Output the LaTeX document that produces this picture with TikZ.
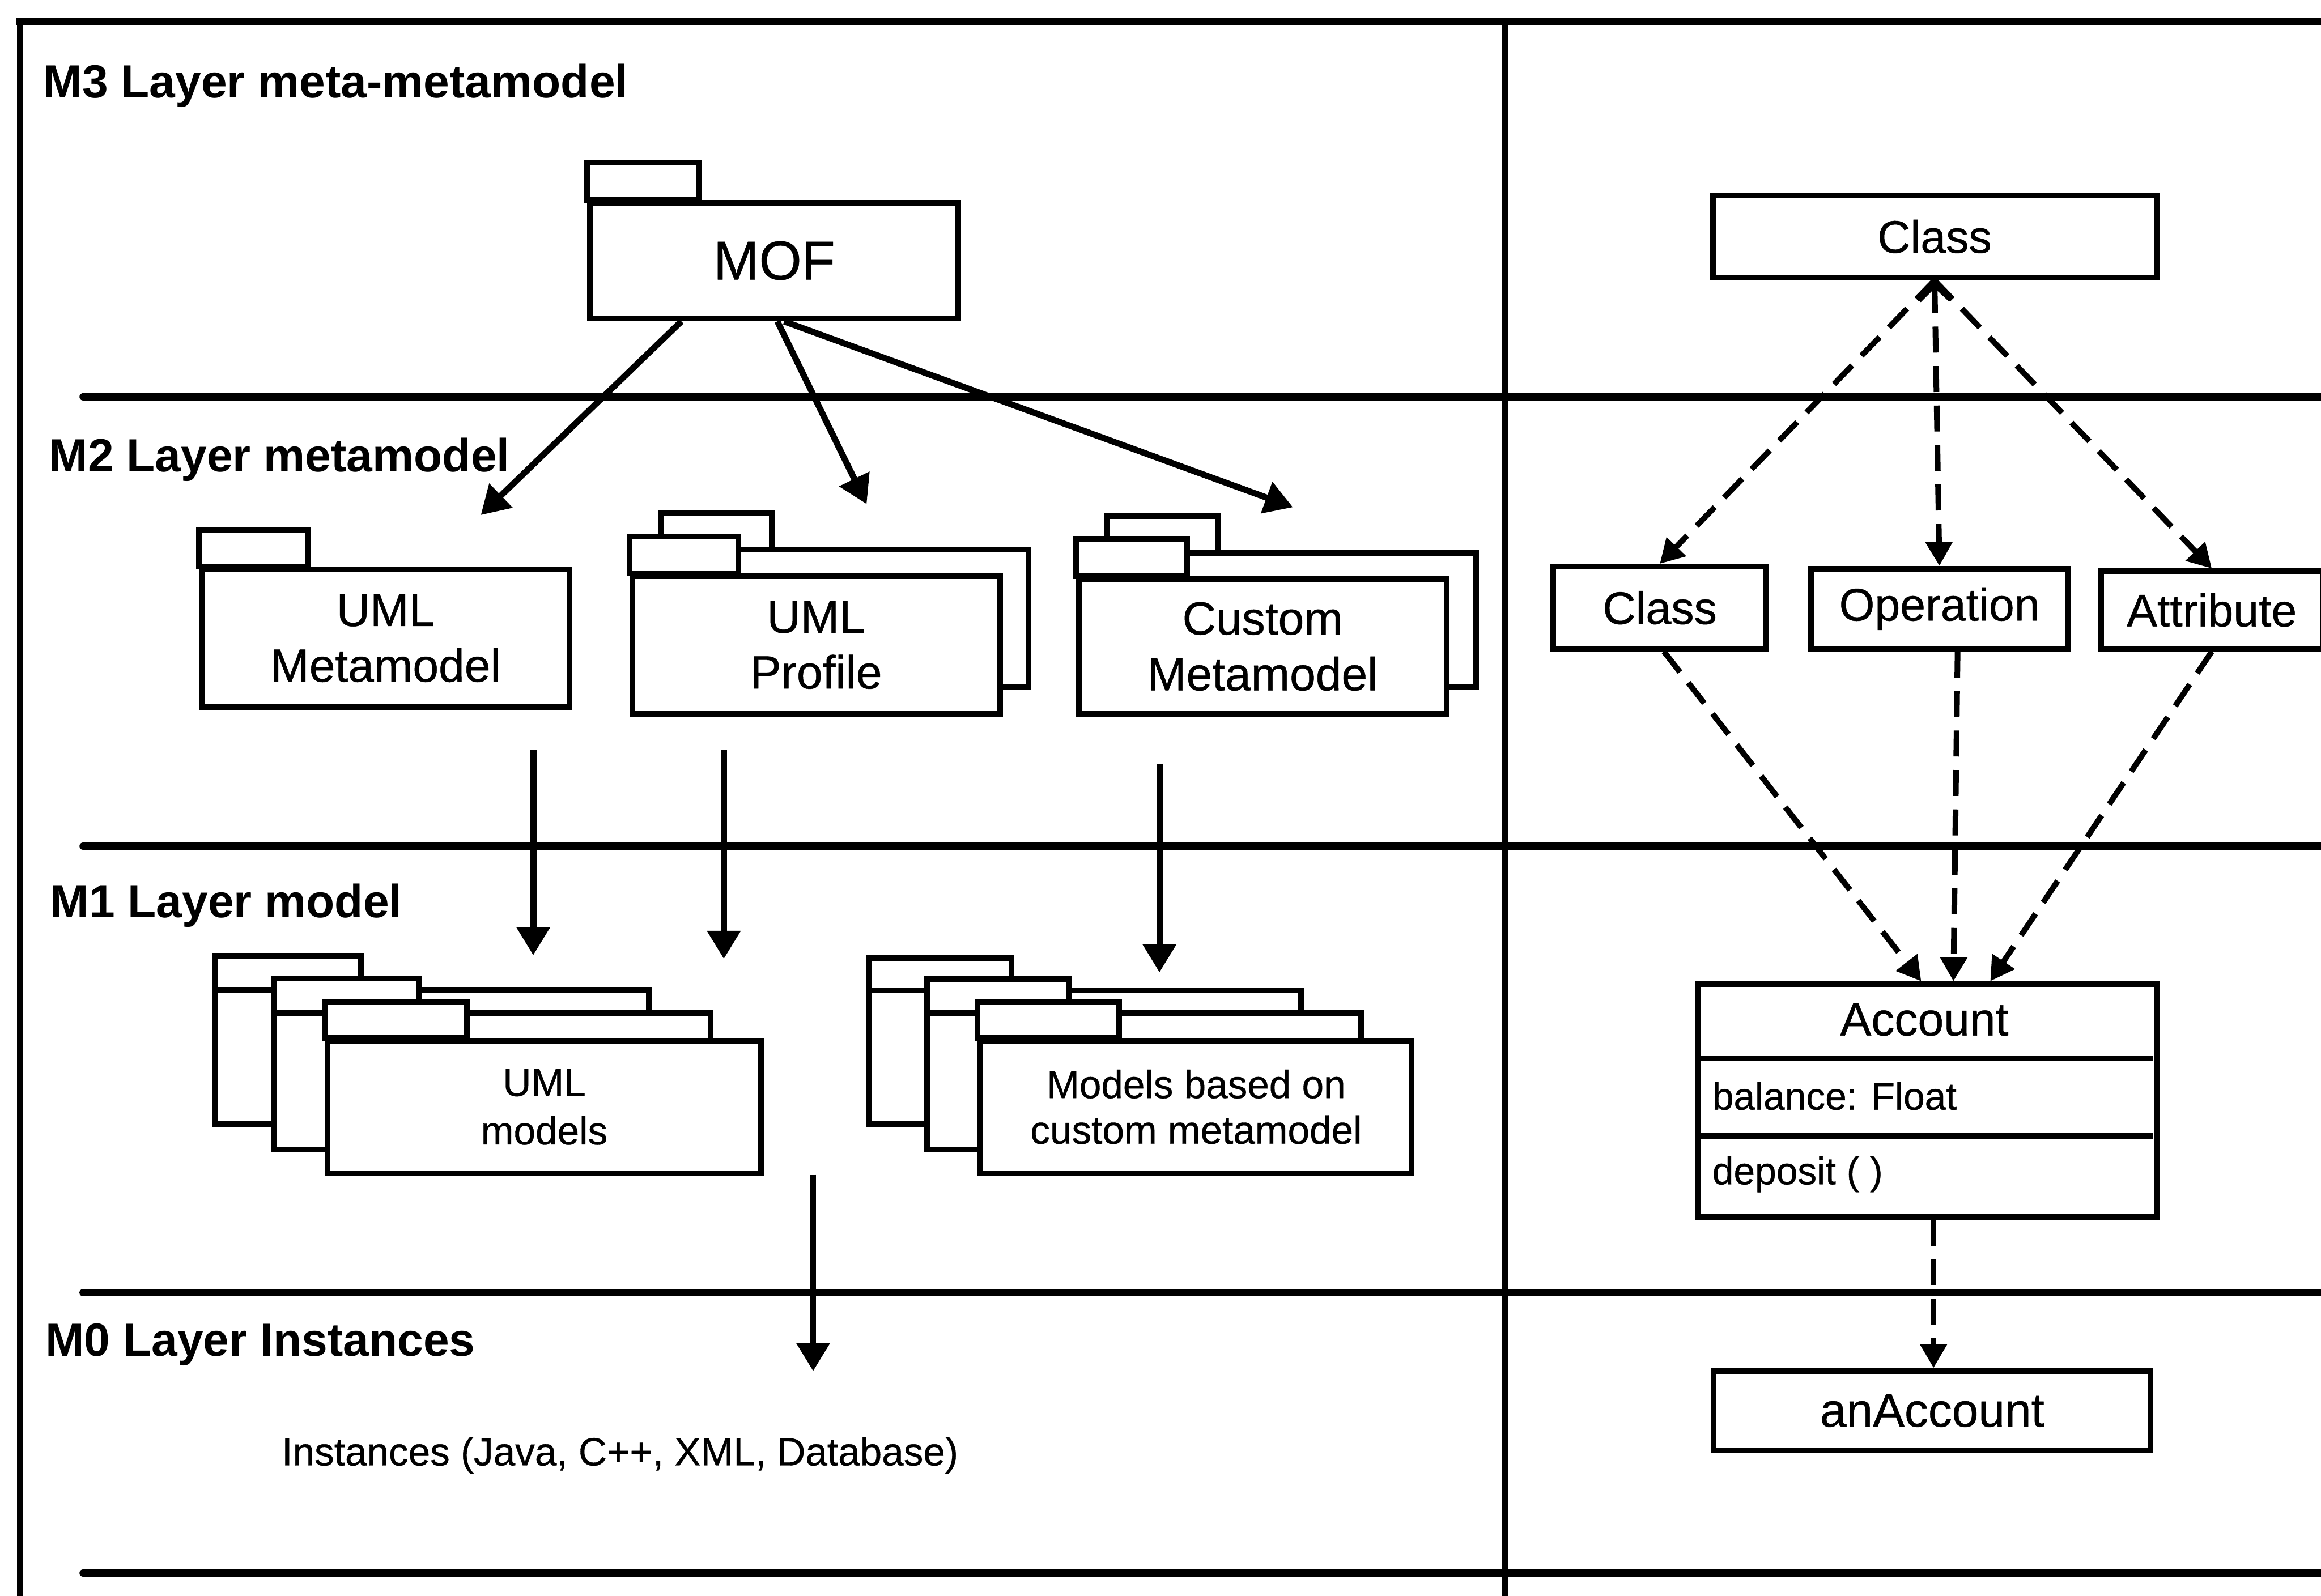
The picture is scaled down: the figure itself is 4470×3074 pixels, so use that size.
\documentclass[tikz,border=0pt]{standalone}
\usepackage{fontspec}
\setmainfont{Liberation Sans}[UprightFeatures={FakeBold=0.6}]
\usetikzlibrary{arrows.meta,calc}

% back layer of a package: body top-left (x,y), body width, body height, tab width, tab height
\newcommand{\umlpkg}[6]{%
  \draw[pkgline] (#1,#2) rectangle ++(#5,-#6);
  \draw[pkgline] (#1,#2) rectangle ++(#3,#4);}

\begin{document}
\begin{tikzpicture}[x=0.01cm,y=-0.01cm,
  layerrule/.style={line width=4pt, line cap=round},
  sideline/.style={line width=3.3pt},
  pkgline/.style={line width=3.1pt, fill=white},
  pkgbody/.style={draw, line width=3.1pt, fill=white, inner sep=0pt,
    anchor=north west, align=center, font=\fontsize{25.5}{30.5}\selectfont},
  classbox/.style={draw, line width=3.1pt, inner sep=0pt, anchor=north west,
    font=\fontsize{25}{30}\selectfont},
  layerlabel/.style={anchor=base west, inner sep=0pt,
    font=\bfseries\fontsize{25.5}{30}\selectfont},
  flow/.style={line width=3.4pt, -{Triangle[length=0.54cm,width=0.62cm]}},
  inst/.style={line width=3.1pt, dash pattern=on 0.5cm off 0.26cm,
    -{Triangle[length=0.46cm,width=0.5cm]}},
]
\useasboundingbox (0,0) rectangle (4470,3074);

% ---- frame and layer rules ----
\draw[sideline] (38,3074) -- (38,42);
\draw[sideline] (2898,42) -- (2898,3074);
\draw[layerrule, line cap=butt] (32,42) -- (4470,42);
\foreach \yy in {764,1630,2490,3030}
  \draw[layerrule] (160,\yy) -- (4470,\yy);

% ---- layer titles ----
\node[layerlabel] (m3) at (83,188) {M3 Layer meta-metamodel};
\node[layerlabel] (m2) at (94,908) {M2 Layer metamodel};
\node[layerlabel] (m1) at (96,1767) {M1 Layer model};
\node[layerlabel] (m0) at (87,2612) {M0 Layer Instances};

% ---- M3: MOF ----
\node[pkgbody, minimum width=7.09cm, minimum height=2.23cm,
  font=\fontsize{30}{36}\selectfont] (mof) at (1131,385) {MOF};
\draw[pkgline] (mof.north west) rectangle ++(215,-72);

% ---- M2 packages ----
\node[pkgbody, minimum width=7.08cm, minimum height=2.65cm] (umlmeta) at (383,1091) {UML\\Metamodel};
\draw[pkgline] (umlmeta.north west) rectangle ++(210,-70);

\umlpkg{1272}{1059}{709}{265}{214}{70}
\node[pkgbody, minimum width=7.08cm, minimum height=2.65cm] (umlprof) at (1212,1104) {UML\\Profile};
\draw[pkgline] (umlprof.north west) rectangle ++(210,-71);

\umlpkg{2131}{1065}{712}{259}{215}{71}
\node[pkgbody, minimum width=7.08cm, minimum height=2.59cm] (custmeta) at (2072,1110) {Custom\\Metamodel};
\draw[pkgline] (custmeta.north west) rectangle ++(214,-72);

% ---- M1 package stacks ----
\umlpkg{415}{1906}{835}{259}{280}{65}
\umlpkg{527}{1951}{842}{263}{280}{66}
\node[pkgbody, minimum width=8.35cm, minimum height=2.55cm,
  font=\fontsize{21.5}{26.5}\selectfont] (umlmodels) at (625,1999) {UML\\models};
\draw[pkgline] (umlmodels.north west) rectangle ++(274,-69);

\umlpkg{1673}{1908}{833}{257}{275}{63}
\umlpkg{1785}{1951}{836}{263}{274}{65}
\node[pkgbody, minimum width=8.30cm, minimum height=2.55cm,
  font=\fontsize{21.5}{25}\selectfont] (custmodels) at (1883,1999) {Models based on\\custom metamodel};
\draw[pkgline] (custmodels.north west) rectangle ++(272,-70);

% ---- M0 ----
\node[anchor=west, inner sep=0pt, font=\fontsize{21.5}{26}\selectfont] (instances)
  at (542,2803) {Instances (Java, C++, XML, Database)};

% ---- arrows between layers (left part) ----
\coordinate (mofA) at ($(mof.south)+(-179,0)$);
\coordinate (mofB) at ($(mof.south)+(6,0)$);
\coordinate (mofC) at ($(mof.south)+(19,0)$);
\coordinate (tipA) at (926,992);
\coordinate (tipB) at (1669,971);
\coordinate (tipC) at (2490,977);
\draw[flow] (mofA) -- (tipA);
\draw[flow] (mofB) -- (tipB);
\draw[flow] (mofC) -- (tipC);

\coordinate (dA1) at (1027,1445); \coordinate (dA2) at (1027,1840);
\coordinate (dB1) at (1394,1445); \coordinate (dB2) at (1394,1847);
\coordinate (dC1) at (2233,1471); \coordinate (dC2) at (2233,1873);
\coordinate (dD1) at (1566,2263); \coordinate (dD2) at (1566,2641);
\draw[flow] (dA1) -- (dA2);
\draw[flow] (dB1) -- (dB2);
\draw[flow] (dC1) -- (dC2);
\draw[flow] (dD1) -- (dD2);

% ---- right part: example ----
\node[classbox, minimum width=8.54cm, minimum height=1.58cm] (meta) at (3293,371) {Class};
\node[classbox, minimum width=4.10cm, minimum height=1.58cm] (cls) at (2986,1086) {Class};
\node[classbox, minimum width=4.95cm, minimum height=1.54cm] (op) at (3482,1090) {Operation};
\node[classbox, minimum width=4.26cm, minimum height=1.49cm] (attr) at (4041,1095) {Attribute};

\node[classbox, minimum width=8.82cm, minimum height=4.48cm] (account) at (3265,1890) {};
\draw[line width=3.1pt] (3265,2038) -- (4147,2038);
\draw[line width=3.1pt] (3265,2188) -- (4147,2188);
\node[font=\fontsize{25.5}{30}\selectfont, inner sep=0pt] (accname) at (3706,1964) {Account};
\node[anchor=west, inner sep=0pt, font=\fontsize{21}{25}\selectfont] (accattr) at (3297,2111) {balance: Float};
\node[anchor=west, inner sep=0pt, font=\fontsize{21}{25}\selectfont] (accop) at (3297,2262) {deposit ( )};

\node[classbox, minimum width=8.41cm, minimum height=1.53cm,
  font=\fontsize{26}{31}\selectfont] (anacc) at (3295,2635) {anAccount};

% dashed instance-of connectors
\draw[inst] (meta.south) -- (cls.north);
\draw[inst, {Straight Barb[length=0.3cm,width=0.62cm]}-{Triangle[length=0.46cm,width=0.5cm]}]
  (meta.south) -- (op.north);
\draw[inst] (meta.south) -- (attr.north);

\coordinate (accL) at ($(account.north west)+(435,0)$);
\coordinate (accM) at ($(account.north west)+(497,0)$);
\coordinate (accR) at ($(account.north west)+(568,0)$);
\draw[inst] ($(cls.south)+(8,0)$) -- (accL);
\draw[inst] ($(op.south)+(35,0)$) -- (accM);
\draw[inst] (attr.south) -- (accR);

\coordinate (accOut) at ($(account.south)+(12,0)$);
\draw[inst] (accOut) -- (accOut |- anacc.north);
\end{tikzpicture}
\end{document}
